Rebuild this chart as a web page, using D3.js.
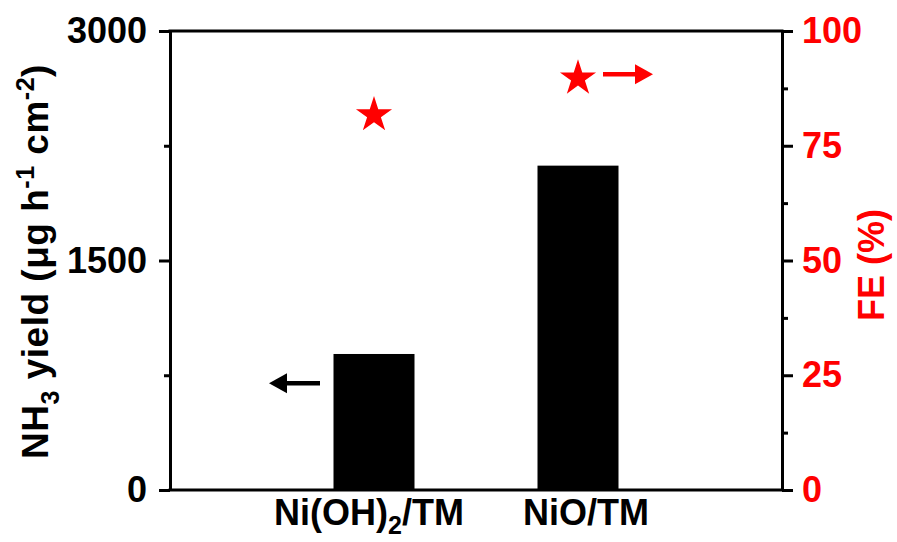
<!DOCTYPE html>
<meta charset="utf-8">
<style>
    body { margin: 0; background: #fff; }
    svg text { font-family: "Liberation Sans", Arial, sans-serif; font-weight: bold; }
    .axis path, .axis line { stroke: #000; stroke-width: 3px; }
</style>
<svg width="897" height="542"></svg>
<script src="https://cdn.jsdelivr.net/npm/d3@7"></script>
<script>

    // data
    var catalysts = ["Ni(OH)2/TM", "NiO/TM"];
    var yieldValues = [889, 2120];      // NH3 yield, ug h-1 cm-2
    var feValues = [81.7, 89.7];        // Faradaic efficiency, %
    var yieldTicks = [0, 1500, 3000];
    var yieldMinor = [750, 2250];
    var feTicks = [0, 25, 50, 75, 100];
    var feMinor = [12.5, 37.5, 62.5, 87.5];

    var svg = d3.select("svg");
    var pLeft = 170, pRight = 782, pTop = 31, pBottom = 490;
    var red = "#ff0000";

    var x = d3.scalePoint().domain(catalysts).range([pLeft, pRight]).padding(1);
    var y = d3.scaleLinear().domain([0, 3000]).range([pBottom, pTop]);
    var yFE = d3.scaleLinear().domain([0, 100]).range([pBottom, pTop]);
    var barW = 81;

    // bars
    svg.append("g").selectAll("rect")
        .data(catalysts)
        .enter().append("rect")
        .attr("x", function (d) { return x(d) - barW / 2; })
        .attr("width", barW)
        .attr("y", function (d, i) { return y(yieldValues[i]); })
        .attr("height", function (d, i) { return pBottom - y(yieldValues[i]); })
        .attr("fill", "#000");

    // frame
    svg.append("line").attr("x1", pLeft - 1.5).attr("x2", pRight + 1.5).attr("y1", pTop).attr("y2", pTop)
        .attr("stroke", "#000").attr("stroke-width", 3);
    svg.append("line").attr("x1", pLeft - 1.5).attr("x2", pRight + 1.5).attr("y1", pBottom).attr("y2", pBottom)
        .attr("stroke", "#000").attr("stroke-width", 3);

    // left axis
    var gL = svg.append("g").attr("class", "axis").attr("transform", "translate(" + pLeft + ",0)")
        .call(d3.axisLeft(y).tickValues(yieldTicks).tickFormat(d3.format("d"))
            .tickSize(11).tickPadding(12).tickSizeOuter(0));
    svg.append("g").attr("class", "axis").attr("transform", "translate(" + pLeft + ",0)")
        .call(d3.axisLeft(y).tickValues(yieldMinor).tickSize(6).tickFormat(""))
        .select(".domain").remove();
    gL.selectAll("text").attr("font-size", 36).attr("fill", "#000")
        .style("font-family", "'Liberation Sans', Arial, sans-serif");

    // right axis
    var gR = svg.append("g").attr("class", "axis").attr("transform", "translate(" + pRight + ",0)")
        .call(d3.axisRight(yFE).tickValues(feTicks).tickSize(11).tickPadding(9).tickSizeOuter(0));
    svg.append("g").attr("class", "axis").attr("transform", "translate(" + pRight + ",0)")
        .call(d3.axisRight(yFE).tickValues(feMinor).tickSize(6).tickFormat(""))
        .select(".domain").remove();
    gR.selectAll("text").attr("font-size", 36).attr("fill", red)
        .style("font-family", "'Liberation Sans', Arial, sans-serif");

    // category labels
    var xl = svg.append("g").selectAll("text")
        .data(catalysts)
        .enter().append("text")
        .attr("x", function (d) { return x(d) + (d === "NiO/TM" ? 8 : -5); })
        .attr("y", 525)
        .attr("text-anchor", "middle")
        .attr("font-size", 36);
    xl.each(function (d) {
        var t = d3.select(this);
        if (d === "Ni(OH)2/TM") {
            t.append("tspan").text("Ni(OH)");
            t.append("tspan").attr("font-size", 25).attr("dy", 9).text("2");
            t.append("tspan").attr("dy", -9).text("/TM");
        } else {
            t.text(d);
        }
    });

    // left title
    var tl = svg.append("text")
        .attr("transform", "translate(48," + ((pTop + pBottom) / 2 + 1) + ") rotate(-90)")
        .attr("text-anchor", "middle")
        .attr("font-size", 37)
        .attr("letter-spacing", 0.5);
    tl.append("tspan").text("NH");
    tl.append("tspan").attr("font-size", 25).attr("dy", 11).text("3");
    tl.append("tspan").attr("dy", -11).text(" yield (\u03bcg h");
    tl.append("tspan").attr("font-size", 25).attr("dy", -14).text("-1");
    tl.append("tspan").attr("dy", 14).text(" cm");
    tl.append("tspan").attr("font-size", 25).attr("dy", -14).text("-2");
    tl.append("tspan").attr("dy", 14).text(")");

    // right title
    svg.append("text")
        .attr("transform", "translate(884,265) rotate(-90)")
        .attr("text-anchor", "middle")
        .attr("font-size", 36)
        .attr("fill", red)
        .text("FE (%)");

    // FE stars
    svg.append("g").selectAll("path")
        .data(catalysts)
        .enter().append("path")
        .attr("d", d3.symbol().type(d3.symbolStar).size(405))
        .attr("transform", function (d, i) { return "translate(" + x(d) + "," + yFE(feValues[i]) + ")"; })
        .attr("fill", red);

    // arrows pointing to the axes
    function arrow(x0, x1, yy, col) {
        var dir = x1 > x0 ? 1 : -1;
        var headL = 18, headH = 10;
        svg.append("line").attr("x1", x0).attr("x2", x1 - dir * headL + dir * 2)
            .attr("y1", yy).attr("y2", yy).attr("stroke", col).attr("stroke-width", 4.5);
        svg.append("path")
            .attr("d", "M" + x1 + "," + yy + "L" + (x1 - dir * headL) + "," + (yy - headH) +
                "L" + (x1 - dir * headL) + "," + (yy + headH) + "Z")
            .attr("fill", col);
    }
    arrow(x(catalysts[0]) - 54, x(catalysts[0]) - 105, y(697), "#000");
    arrow(x(catalysts[1]) + 25, x(catalysts[1]) + 75, yFE(feValues[1]) - 4, red);

</script>
